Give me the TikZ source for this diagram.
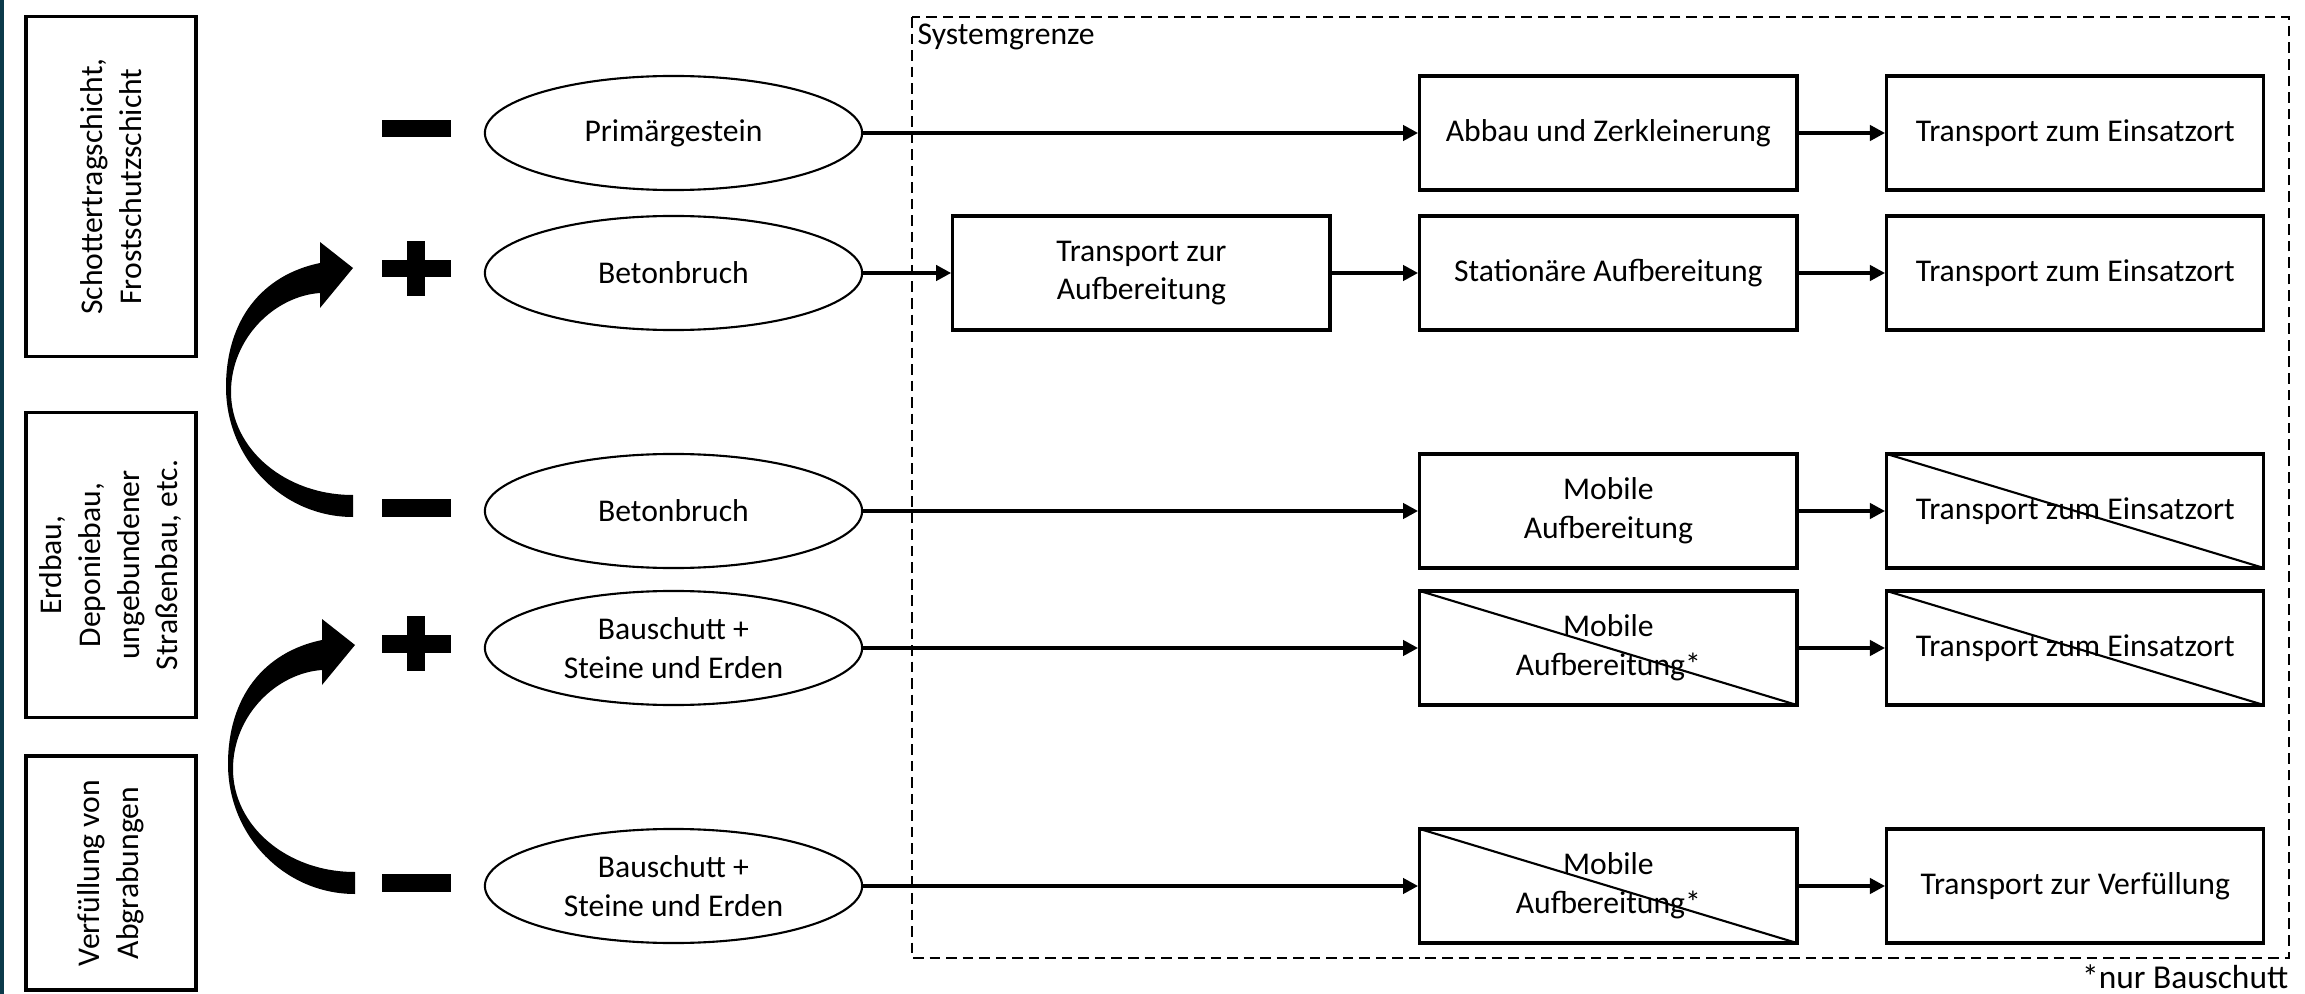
\documentclass[tikz,border=0pt]{standalone}
\usepackage{fontspec}
\setmainfont{Carlito}
\usetikzlibrary{arrows.meta, positioning, shapes.geometric}
\definecolor{edgeteal}{RGB}{12,58,74}

\begin{document}
\begin{tikzpicture}[
    x=0.01cm, y=-0.01cm,
    font=\fontsize{9}{11}\selectfont,
    field/.style={rectangle, draw=black, line width=0.9pt, rotate=90, minimum height=1.7cm, align=center},
    source/.style={ellipse, draw=black, line width=0.6pt, minimum width=3.77cm, minimum height=1.14cm, inner sep=0pt, align=center},
    stage/.style={rectangle, draw=black, line width=0.9pt, minimum width=3.77cm, minimum height=1.14cm, align=center},
    crossed/.style={path picture={\draw[line width=0.6pt] (path picture bounding box.north west) -- (path picture bounding box.south east);}},
    flow/.style={-{Triangle[length=4.3pt, width=4.3pt]}, line width=1.1pt},
    sign/.style={fill=black},
    node distance=0.865cm
]

\useasboundingbox (0,0) rectangle (2305,994);
\fill[edgeteal] (0,0) rectangle (4,994);

% Einsatzbereiche
\node[field, minimum width=3.39cm] (fschotter) at (111,186.5) {Schottertragschicht,\\Frostschutzschicht};
\node[field, minimum width=3.04cm] (ferdbau) at (111,565) {Erdbau,\\Deponiebau,\\ungebundener\\Straßenbau, etc.};
\node[field, minimum width=2.34cm] (fverf) at (111,873) {Verfüllung von\\Abgrabungen};

% Systemgrenze
\draw[line width=0.6pt, dash pattern=on 3pt off 1.7pt] (912,17) rectangle (2289,958);
\node[anchor=base west, inner sep=0pt] (sysgrenze) at (917,45) {Systemgrenze};
\node[anchor=base east, inner sep=0pt, font=\fontsize{9.5}{11}\selectfont] (fussnote) at (2289,988) {*nur Bauschutt};

% Materialien
\node[source] (prim) at (673.5,133) {Primärgestein};
\node[source] (beton1) at (673.5,273) {Betonbruch};
\node[source] (beton2) at (673.5,511) {Betonbruch};
\node[source] (bau1) at (673.5,648) {Bauschutt +\\Steine und Erden};
\node[source] (bau2) at (673.5,886) {Bauschutt +\\Steine und Erden};

% Prozessschritte
\node[stage, right=0.88cm of beton1] (transauf) {Transport zur\\Aufbereitung};
\node[stage, right=of transauf] (station) {Stationäre Aufbereitung};
\node[stage] (abbau) at (station |- prim) {Abbau und Zerkleinerung};
\node[stage] (mobil1) at (station |- beton2) {Mobile\\Aufbereitung};
\node[stage, crossed] (mobil2) at (station |- bau1) {Mobile\\Aufbereitung*};
\node[stage, crossed] (mobil3) at (station |- bau2) {Mobile\\Aufbereitung*};

\node[stage, right=of abbau] (einsatz1) {Transport zum Einsatzort};
\node[stage, right=of station] (einsatz2) {Transport zum Einsatzort};
\node[stage, crossed, right=of mobil1] (einsatz3) {Transport zum Einsatzort};
\node[stage, crossed, right=of mobil2] (einsatz4) {Transport zum Einsatzort};
\node[stage, right=of mobil3] (verfuell) {Transport zur Verfüllung};

\draw[flow] (prim.east) -- (abbau.west);
\draw[flow] (abbau.east) -- (einsatz1.west);
\draw[flow] (beton1.east) -- (transauf.west);
\draw[flow] (transauf.east) -- (station.west);
\draw[flow] (station.east) -- (einsatz2.west);
\draw[flow] (beton2.east) -- (mobil1.west);
\draw[flow] (mobil1.east) -- (einsatz3.west);
\draw[flow] (bau1.east) -- (mobil2.west);
\draw[flow] (mobil2.east) -- (einsatz4.west);
\draw[flow] (bau2.east) -- (mobil3.west);
\draw[flow] (mobil3.east) -- (verfuell.west);

% Plus und Minus
\fill[sign] (382,120) rectangle (451,137);
\fill[sign] (382,260) rectangle (451,277);
\fill[sign] (407,241) rectangle (425,296);
\fill[sign] (382,499) rectangle (451,517);
\fill[sign] (382,635) rectangle (451,653);
\fill[sign] (407,616) rectangle (425,671);
\fill[sign] (382,874) rectangle (451,892);

% gebogene Pfeile
\fill[sign] (353,517) -- (353,495)
    .. controls (285,495) and (231,449) .. (231,392)
    .. controls (231,338) and (275,296) .. (320,293)
    -- (320,308) -- (353,268) -- (320,242) -- (320,263)
    .. controls (262,275) and (226,320) .. (226,387)
    .. controls (226,459) and (283,517) .. (353,517) -- cycle;
\fill[sign] (355,894) -- (355,872)
    .. controls (287,872) and (233,826) .. (233,769)
    .. controls (233,715) and (277,673) .. (322,670)
    -- (322,685) -- (355,645) -- (322,619) -- (322,640)
    .. controls (264,652) and (228,697) .. (228,764)
    .. controls (228,836) and (285,894) .. (355,894) -- cycle;

\end{tikzpicture}
\end{document}
